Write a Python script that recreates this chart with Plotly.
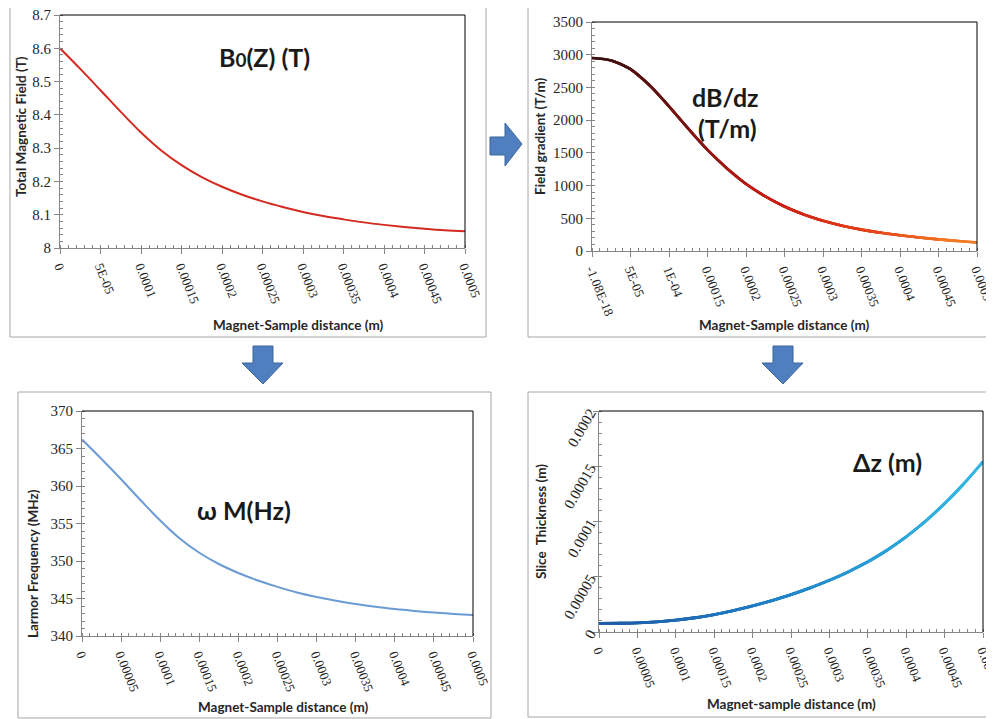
import plotly.graph_objects as go

# target picture size and the page's default body margin
W, H = 994, 719
OFF = 8
FW, FH = W - OFF, H - OFF

# ---------------- data ----------------
distance_m = [0, 0.000025, 0.00005, 0.000075, 0.0001, 0.000125, 0.00015, 0.000175,
              0.0002, 0.000225, 0.00025, 0.000275, 0.0003, 0.000325, 0.00035,
              0.000375, 0.0004, 0.000425, 0.00045, 0.000475, 0.0005]

total_field_T = [8.600, 8.538, 8.474, 8.409, 8.347, 8.293, 8.249, 8.213, 8.184, 8.160,
                 8.140, 8.123, 8.108, 8.096, 8.086, 8.077, 8.0695, 8.063, 8.0575, 8.053, 8.050]

field_gradient_Tm = [2950, 2912, 2780, 2530, 2210, 1870, 1545, 1265, 1025, 835,
                     680, 558, 462, 387, 327, 279, 240, 207, 178, 152, 130]

larmor_MHz = [366.2, 363.6, 360.9, 358.1, 355.4, 353.0, 351.1, 349.6, 348.4, 347.4,
              346.55, 345.8, 345.2, 344.7, 344.27, 343.9, 343.6, 343.35, 343.13, 342.95, 342.8]

slice_thickness_m = [7.8e-6, 7.9e-6, 8.3e-6, 9.2e-6, 1.07e-5, 1.29e-5, 1.58e-5, 1.94e-5,
                     2.36e-5, 2.84e-5, 3.38e-5, 3.99e-5, 4.68e-5, 5.46e-5, 6.35e-5,
                     7.4e-5, 8.62e-5, 1.002e-4, 1.162e-4, 1.342e-4, 1.542e-4]

x_tickvals = [0, 0.00005, 0.0001, 0.00015, 0.0002, 0.00025, 0.0003, 0.00035, 0.0004, 0.00045, 0.0005]
x_ticktext_1 = ["0", "5E-05", "0.0001", "0.00015", "0.0002", "0.00025", "0.0003",
                "0.00035", "0.0004", "0.00045", "0.0005"]
x_ticktext_2 = ["-1.08E-18", "5E-05", "1E-04", "0.00015", "0.0002", "0.00025", "0.0003",
                "0.00035", "0.0004", "0.00045", "0.0005"]
x_ticktext_34 = ["0", "0.00005", "0.0001", "0.00015", "0.0002", "0.00025", "0.0003",
                 "0.00035", "0.0004", "0.00045", "0.0005"]
y1_tickvals = [8, 8.1, 8.2, 8.3, 8.4, 8.5, 8.6, 8.7]
y1_ticktext = ["8", "8.1", "8.2", "8.3", "8.4", "8.5", "8.6", "8.7"]
y4_tickvals = [0, 0.00005, 0.0001, 0.00015, 0.0002]
y4_ticktext = ["0", "0.00005", "0.0001", "0.00015", "0.0002"]

# ---------------- helpers ----------------
def px(x):
    return (x - OFF) / FW

def py(y):
    return 1 - (y - OFF) / FH

def lerp_color(stops, t):
    for i in range(len(stops) - 1):
        t0, c0 = stops[i]
        t1, c1 = stops[i + 1]
        if t0 <= t <= t1:
            f = (t - t0) / (t1 - t0) if t1 > t0 else 0
            c = [round(c0[k] + (c1[k] - c0[k]) * f) for k in range(3)]
            return "rgb(%d,%d,%d)" % tuple(c)
    c = stops[-1][1]
    return "rgb(%d,%d,%d)" % tuple(c)

YTICK_FONT = dict(family="Liberation Serif, serif", size=15, color="#262626")
XTICK_FONT = dict(family="Liberation Serif, serif", size=13, color="#262626")
TITLE_FONT = dict(family="Lato", size=13.5, color="#262626", weight="bold")
LABEL_FONT = dict(family="Lato", size=25, color="#1a1a1a", weight="bold")
AXIS_GREY = "#868686"

fig = go.Figure()

panels = {
    1: dict(x0=60, x1=465, y0=15, y1=248),
    2: dict(x0=592, x1=977, y0=22, y1=251),
    3: dict(x0=82, x1=473, y0=411, y1=636),
    4: dict(x0=599, x1=983, y0=411, y1=632),
}

def gradient_line(xs, ys, stops, width, xa, ya):
    """Colour-graded curve: one smooth (spline) piece per data interval,
    each drawn through its neighbouring data points."""
    m = len(xs)
    for i in range(m - 1):
        a, b = max(0, i - 1), min(m, i + 3)
        t = (i + 0.5) / (m - 1)
        fig.add_trace(go.Scatter(x=xs[a:b], y=ys[a:b], mode="lines", line_shape="spline",
                                 line=dict(color=lerp_color(stops, t), width=width),
                                 xaxis=xa, yaxis=ya, showlegend=False, hoverinfo="skip"))

# ---------------- traces ----------------
fig.add_trace(go.Scatter(x=distance_m, y=total_field_T, mode="lines", line_shape="spline",
                         line=dict(color="#d42a20", width=2), xaxis="x", yaxis="y",
                         showlegend=False, hoverinfo="skip"))

grad_stops = [(0.0, (42, 12, 12)), (0.25, (110, 18, 18)), (0.5, (200, 28, 20)),
              (0.75, (228, 62, 24)), (1.0, (242, 128, 34))]
gradient_line(distance_m, field_gradient_Tm, grad_stops, 2.6, "x2", "y2")

fig.add_trace(go.Scatter(x=distance_m, y=larmor_MHz, mode="lines", line_shape="spline",
                         line=dict(color="#6a9bd4", width=2), xaxis="x3", yaxis="y3",
                         showlegend=False, hoverinfo="skip"))

slice_stops = [(0.0, (28, 84, 160)), (0.5, (30, 128, 200)), (1.0, (52, 184, 226))]
gradient_line(distance_m, slice_thickness_m, slice_stops, 2.8, "x4", "y4")

# ---------------- axes ----------------
def xaxis_cfg(k, ticktext):
    p = panels[k]
    return dict(domain=[px(p["x0"]), px(p["x1"])], anchor="y" if k == 1 else f"y{k}",
                range=[0, 0.0005], tickvals=x_tickvals, ticktext=ticktext, tickangle=68,
                showgrid=False, zeroline=False, showline=True, linecolor=AXIS_GREY, linewidth=1,
                ticks="outside", ticklen=5, tickcolor=AXIS_GREY, tickfont=XTICK_FONT,
                automargin=False, ticklabeloverflow="allow",
                minor=dict(ticks="inside", ticklen=3, dtick=0.00001, tickcolor=AXIS_GREY, showgrid=False),
                fixedrange=True)

def yaxis_cfg(k, rng, minor_dtick, **extra):
    p = panels[k]
    d = dict(domain=[py(p["y1"]), py(p["y0"])], anchor="x" if k == 1 else f"x{k}",
             range=rng, showgrid=False, zeroline=False, showline=True,
             linecolor=AXIS_GREY, linewidth=1, ticks="outside", ticklen=5, tickcolor=AXIS_GREY,
             tickfont=YTICK_FONT, automargin=False, ticklabeloverflow="allow",
             minor=dict(ticks="inside", ticklen=3, dtick=minor_dtick, tickcolor=AXIS_GREY, showgrid=False),
             fixedrange=True)
    d.update(extra)
    return d

fig.update_layout(
    xaxis=xaxis_cfg(1, x_ticktext_1),
    xaxis2=xaxis_cfg(2, x_ticktext_2),
    xaxis3=xaxis_cfg(3, x_ticktext_34),
    xaxis4=xaxis_cfg(4, x_ticktext_34),
    yaxis=yaxis_cfg(1, [8, 8.7], 0.02, tickvals=y1_tickvals, ticktext=y1_ticktext),
    yaxis2=yaxis_cfg(2, [0, 3500], 100, dtick=500),
    yaxis3=yaxis_cfg(3, [340, 370], 1, dtick=5),
    yaxis4=yaxis_cfg(4, [0, 0.0002], 0.00001, tickvals=y4_tickvals,
                     ticktext=y4_ticktext, tickangle=-60),
)

# ---------------- shapes: frames, plot borders, arrows ----------------
shapes = []
frames = [(10, 5, 486, 337), (528, 6, 993, 337), (18, 392, 491, 718), (528, 392, 993, 717)]
for x0, y0, x1, y1 in frames:
    shapes.append(dict(type="rect", xref="paper", yref="paper", x0=px(x0), x1=px(x1),
                       y0=py(y1), y1=py(y0), line=dict(color="#a6a6a6", width=1), layer="below"))

for k in range(1, 5):
    xr = "x domain" if k == 1 else f"x{k} domain"
    yr = "y domain" if k == 1 else f"y{k} domain"
    shapes.append(dict(type="line", xref=xr, yref=yr, x0=0, x1=1, y0=1, y1=1,
                       line=dict(color="#000000", width=1)))
    shapes.append(dict(type="line", xref=xr, yref=yr, x0=1, x1=1, y0=0, y1=1,
                       line=dict(color="#000000", width=1)))

def poly(points):
    return "M " + " L ".join(f"{px(x):.5f},{py(y):.5f}" for x, y in points) + " Z"

right_arrow = [(490, 137), (505, 137), (505, 123), (522, 144), (505, 166), (505, 155), (490, 155)]
def down_arrow(cx):
    return [(cx - 10, 346), (cx + 10, 346), (cx + 10, 363), (cx + 20, 363), (cx, 384),
            (cx - 21, 363), (cx - 10, 363)]

for pts in (right_arrow, down_arrow(263), down_arrow(783)):
    shapes.append(dict(type="path", xref="paper", yref="paper", path=poly(pts),
                       fillcolor="#4f7fbf", line=dict(color="#3b659a", width=1)))

fig.update_layout(shapes=shapes)

# ---------------- annotations ----------------
ann = []
def text(x, y, s, font, angle=0):
    ann.append(dict(x=px(x), y=py(y), xref="paper", yref="paper", text=s, showarrow=False,
                    xanchor="center", yanchor="middle", font=font, textangle=angle))

text(298, 325, "Magnet-Sample distance (m)", TITLE_FONT)
text(784, 325, "Magnet-Sample distance (m)", TITLE_FONT)
text(283, 707, "Magnet-Sample distance (m)", TITLE_FONT)
text(791, 704, "Magnet-sample distance (m)", TITLE_FONT)
text(21, 127, "Total Magnetic Field (T)", TITLE_FONT, -90)
text(540, 136, "Field gradient (T/m)", TITLE_FONT, -90)
text(33, 564, "Larmor Frequency (MHz)", TITLE_FONT, -90)
text(541, 522, "Slice  Thickness (m)", TITLE_FONT, -90)

text(264, 57, 'B<span style="font-size:19px">0</span>(Z) (T)', LABEL_FONT)
text(725, 97, "dB/dz", LABEL_FONT)
text(727, 128, "(T/m)", LABEL_FONT)
text(244, 510, "ω M(Hz)", LABEL_FONT)
text(887, 462, "Δz (m)", LABEL_FONT)

fig.update_layout(annotations=ann)

fig.update_layout(width=FW, height=FH, autosize=False,
                  margin=dict(l=0, r=0, t=0, b=0, pad=0),
                  paper_bgcolor="white", plot_bgcolor="white", showlegend=False)

fig.write_html("out.html", config={"displayModeBar": False})
